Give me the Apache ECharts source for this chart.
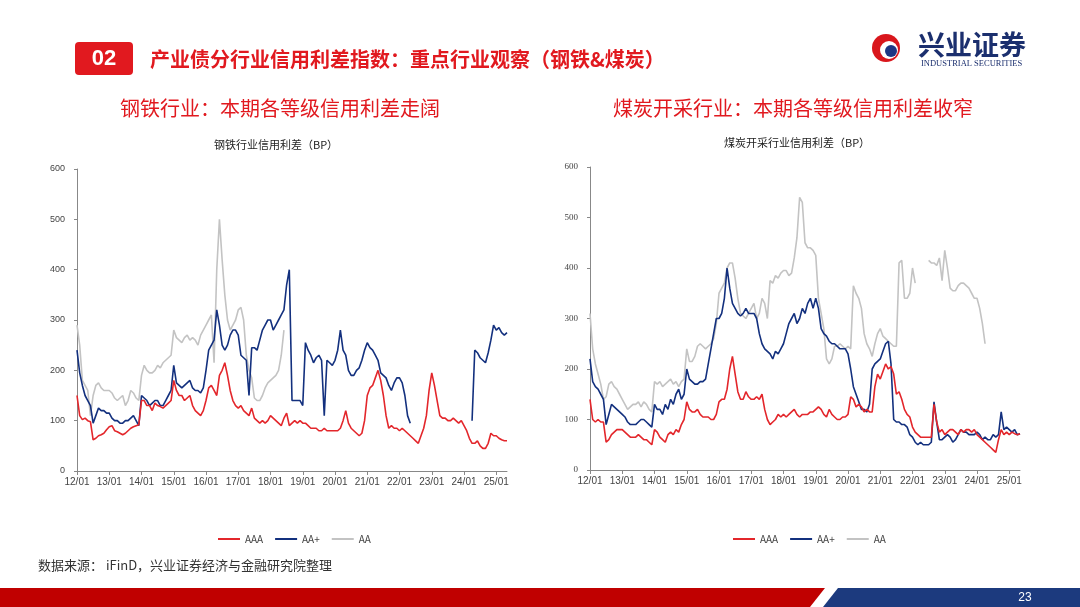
<!DOCTYPE html>
<html><head><meta charset="utf-8">
<script src="https://cdn.jsdelivr.net/npm/echarts@6/dist/echarts.min.js"></script>
<style>html,body{margin:0;padding:0;background:#fff}#c{width:1080px;height:607px}</style>
</head><body><div id="c"></div>
<script>
// months 2012-01 .. 2025-05
const startYear = 2012, monthCount = 161;
const categories = [];
for (let i = 0; i < monthCount; i++) {
  const y = startYear + Math.floor(i / 12), m = i % 12 + 1;
  categories.push(String(y).slice(2) + '/' + String(m).padStart(2, '0'));
}
const yTicks = [0, 100, 200, 300, 400, 500, 600];
const n = null;

// Steel industry credit spread (BP)
const steelAAA = [
150,110,102,105,100,98,62,65,70,72,75,82,
88,90,80,78,75,72,75,80,85,88,90,92,
140,140,130,130,120,135,130,128,125,130,135,140,
180,160,150,150,140,145,150,130,120,115,110,120,
140,165,170,160,150,190,200,215,190,160,140,130,
125,130,120,115,110,125,105,100,95,100,95,100,
110,105,100,95,90,105,115,90,95,100,95,100,
95,95,90,85,85,85,80,80,85,80,80,80,
80,80,85,100,120,95,85,80,75,70,75,100,
150,165,170,185,200,180,150,110,85,90,85,85,
80,85,80,75,70,65,60,55,70,85,110,160,
195,170,140,110,105,105,100,100,105,100,95,100,
90,80,65,55,55,60,50,45,45,55,75,70,
70,65,62,60,60];
const steelAAplus = [
240,195,170,150,140,130,95,110,125,120,120,115,
115,105,100,100,95,95,100,100,105,110,100,90,
150,145,140,130,135,140,140,130,130,140,150,160,
210,175,170,165,170,175,180,165,160,160,155,165,
200,240,250,260,320,290,250,240,250,270,280,280,
270,230,225,220,150,245,245,240,260,280,290,300,
300,280,290,300,310,320,370,400,140,140,140,140,
130,255,240,230,215,225,230,220,110,220,215,210,
220,240,280,240,230,200,190,190,200,205,220,240,
255,245,240,230,220,195,190,185,170,160,175,185,
185,175,150,110,95,n,n,n,n,n,n,n,
n,n,n,n,n,n,n,n,n,n,n,n,
n,n,n,100,240,235,225,220,215,235,260,290,
280,285,275,270,275];
const steelAA = [
290,250,180,170,160,110,150,170,175,165,160,160,
160,155,145,140,145,150,130,140,160,155,145,140,
190,210,200,195,195,200,210,205,215,220,225,230,
280,265,260,255,265,270,260,265,260,250,270,280,
290,300,310,215,400,500,420,350,300,280,290,300,
320,325,300,230,200,185,145,140,140,150,165,175,
180,185,190,200,230,280,n,n,n,n,n,n,
n,n,n,n,n,n,n,n,n,n,n,n,n,n,n,n,n,n,n,n,n,n,n,n,
n,n,n,n,n,n,n,n,n,n,n,n,n,n,n,n,n,n,n,n,n,n,n,n,
n,n,n,n,n,n,n,n,n,n,n,n,n,n,n,n,n,n,n,n,n,n,n,n,
n,n,n,n,n];

// Coal mining industry credit spread (BP)
const coalAAA = [
140,100,95,100,95,95,55,60,70,75,80,80,
80,75,70,65,65,65,70,65,60,60,55,50,
80,75,65,60,55,70,75,70,80,75,90,100,
135,120,115,115,120,110,105,105,105,100,100,110,
135,140,140,160,200,225,190,155,140,140,155,145,
140,140,145,140,150,120,100,90,95,100,110,105,
110,105,110,115,120,110,105,110,110,110,115,115,
120,125,120,110,105,120,110,105,100,100,105,105,
110,145,140,125,130,125,115,120,115,115,165,190,
180,195,210,200,205,190,150,155,140,120,110,105,
85,75,70,65,65,65,65,65,130,95,75,80,
70,75,80,80,75,70,80,75,80,80,75,80,
70,65,60,55,50,45,40,35,60,80,70,75,
70,75,72,70,72];
const coalAAplus = [
220,175,165,160,150,140,90,110,130,125,120,115,
110,105,95,90,90,90,95,100,100,95,90,85,
130,120,120,110,130,120,140,130,150,160,140,150,
200,180,175,170,170,175,175,180,210,240,270,300,
300,310,340,400,360,330,320,310,305,310,320,310,
310,310,300,270,250,240,235,230,220,235,230,240,
250,270,290,300,310,290,300,320,310,330,340,320,
340,320,280,270,265,255,250,250,245,240,240,240,
230,200,165,150,135,120,120,115,130,200,210,215,
220,235,250,255,210,100,95,95,90,90,85,70,
65,55,50,55,50,50,50,55,135,95,60,60,
65,70,65,55,60,70,80,75,75,70,70,70,
75,70,60,65,60,60,70,65,70,115,80,85,
80,75,80,70,72];
const coalAA = [
310,240,210,190,170,140,145,170,175,165,160,150,
140,130,120,125,130,130,135,125,135,130,120,115,
175,170,175,165,170,175,180,170,175,165,175,180,
240,215,215,225,245,250,245,240,245,250,260,290,
350,360,370,400,410,410,380,340,310,305,300,310,
320,330,300,310,340,330,300,375,370,385,380,390,
395,395,385,390,420,460,540,530,450,440,440,435,
425,340,310,280,220,210,220,245,245,250,245,240,
245,240,365,350,340,320,270,250,240,225,250,270,
280,265,260,255,250,245,245,410,415,340,340,350,
400,370,n,n,n,n,415,410,410,405,420,375,
435,400,360,355,355,365,370,370,365,360,350,340,
340,320,290,250,n,n,n,n,n,n,n,n,
n,n,n,n,n];

const RED = '#e3262b', NAVY = '#13307e', GREY = '#c3c3c3';
const chart = echarts.init(document.getElementById('c'));

function xAxis(gi, fam) {
  return {
    type: 'category', gridIndex: gi, data: categories, boundaryGap: false,
    axisLine: { lineStyle: { color: '#888', width: 1 } },
    axisTick: { interval: 11, length: 4, lineStyle: { color: '#888' } },
    axisLabel: { interval: 11, color: '#444', fontSize: 10, fontFamily: fam, margin: 6 },
    splitLine: { show: false }
  };
}
function yAxis(gi, fam) {
  return {
    type: 'value', gridIndex: gi, min: 0, max: 600, interval: 100,
    axisLine: { show: true, lineStyle: { color: '#888' } },
    axisTick: { show: true, inside: false, length: 3, lineStyle: { color: '#888' } },
    axisLabel: { color: '#444', fontSize: 9, fontFamily: fam, margin: 12,
      formatter: v => yTicks.includes(v) ? String(v) : '' },
    splitLine: { show: false }
  };
}
function line(name, data, color, xi, z) {
  return { name, type: 'line', data, xAxisIndex: xi, yAxisIndex: xi, showSymbol: false,
    symbol: 'none', connectNulls: false, z, lineStyle: { color, width: 1.6 }, itemStyle: { color } };
}

chart.setOption({
  animation: false,
  textStyle: { fontFamily: '"Noto Sans CJK SC", sans-serif' },
  grid: [
    { left: 77, top: 169, width: 430, height: 302 },
    { left: 590, top: 167, width: 430, height: 303 }
  ],
  xAxis: [xAxis(0, 'Liberation Sans'), xAxis(1, 'Liberation Sans')],
  yAxis: [yAxis(0, 'Liberation Sans'), yAxis(1, 'Liberation Serif')],
  legend: [
    { data: ['AAA', 'AA+', 'AA'], left: 213, top: 529, itemWidth: 22, itemHeight: 2, itemGap: 12,
      icon: 'rect', textStyle: { fontSize: 10, color: '#444' } },
    { data: ['AAA', 'AA+', 'AA'], left: 728, top: 529, itemWidth: 22, itemHeight: 2, itemGap: 12,
      icon: 'rect', textStyle: { fontSize: 10, color: '#444' } }
  ],
  series: [
    line('AA', steelAA, GREY, 0, 1),
    line('AA+', steelAAplus, NAVY, 0, 2),
    line('AAA', steelAAA, RED, 0, 3),
    line('AA', coalAA, GREY, 1, 1),
    line('AA+', coalAAplus, NAVY, 1, 2),
    line('AAA', coalAAA, RED, 1, 3)
  ],
  graphic: [
    { type: 'rect', shape: { x: 75, y: 42, width: 58, height: 33, r: 4 }, style: { fill: '#e1191f' } },
    { type: 'text', x: 104, y: 59, style: { text: '02', fill: '#fff', font: 'bold 22px "Liberation Sans"', align: 'center', verticalAlign: 'middle' } },
    { type: 'text', x: 150, y: 59, style: { text: '产业债分行业信用利差指数：重点行业观察（钢铁&煤炭）', fill: '#e1191f', font: 'bold 20px "Noto Sans CJK SC"', verticalAlign: 'middle' } },
    { type: 'circle', shape: { cx: 886, cy: 48, r: 14 }, style: { fill: '#d9161c' } },
    { type: 'circle', shape: { cx: 889, cy: 50, r: 9 }, style: { fill: '#fff' } },
    { type: 'circle', shape: { cx: 891, cy: 51, r: 6 }, style: { fill: '#1d3784' } },
    { type: 'text', x: 918, y: 45, style: { text: '兴业证券', fill: '#1b2f6e', font: 'bold 27px "Noto Sans CJK SC"', verticalAlign: 'middle' } },
    { type: 'text', x: 921, y: 64, style: { text: 'INDUSTRIAL SECURITIES', fill: '#1b2f6e', font: '8.5px "Liberation Serif"', verticalAlign: 'middle' } },
    { type: 'text', x: 280, y: 108, style: { text: '钢铁行业：本期各等级信用利差走阔', fill: '#e1191f', font: '20px "Noto Sans CJK SC"', align: 'center', verticalAlign: 'middle' } },
    { type: 'text', x: 793, y: 108, style: { text: '煤炭开采行业：本期各等级信用利差收窄', fill: '#e1191f', font: '20px "Noto Sans CJK SC"', align: 'center', verticalAlign: 'middle' } },
    { type: 'text', x: 276, y: 145, style: { text: '钢铁行业信用利差（BP）', fill: '#222', font: '11px "Noto Sans CJK SC"', align: 'center', verticalAlign: 'middle' } },
    { type: 'text', x: 797, y: 143, style: { text: '煤炭开采行业信用利差（BP）', fill: '#222', font: '11px "Noto Sans CJK SC"', align: 'center', verticalAlign: 'middle' } },
    { type: 'text', x: 38, y: 565, style: { text: '数据来源： iFinD，兴业证券经济与金融研究院整理', fill: '#333', font: '13px "Noto Sans CJK SC"', verticalAlign: 'middle' } },
    { type: 'polygon', shape: { points: [[0, 588], [825, 588], [810, 607], [0, 607]] }, style: { fill: '#c00000' } },
    { type: 'polygon', shape: { points: [[838, 588], [1080, 588], [1080, 607], [823, 607]] }, style: { fill: '#1c3a7e' } },
    { type: 'text', x: 1025, y: 598, style: { text: '23', fill: '#fff', font: '12px "Liberation Sans"', align: 'center', verticalAlign: 'middle' } }
  ]
});
</script></body></html>
